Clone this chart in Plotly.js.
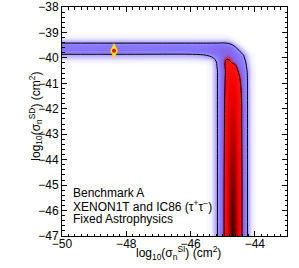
<!DOCTYPE html>
<html>
<head>
<meta charset="utf-8">
<script src="https://cdn.plot.ly/plotly-3.0.1.min.js"></script>
<style>html,body{margin:0;padding:0;background:#fff;}#chart{width:299px;height:268px;}</style>
</head>
<body>
<div id="chart"></div>
<script>
// log10(sigma_SI) grid (x) and log10(sigma_SD) grid (y)
var xGrid = [-50, -48, -46, -45.7, -45.5, -45.35, -45.2, -45.1, -45.0, -44.9, -44.8, -44.7, -44.6, -44.5, -44.4, -44.3, -44.2, -44.1, -43.95, -43.7, -43];
var yGrid = [-47, -45, -43, -41.5, -40.8, -40.5, -40.3, -40.15, -40.0, -39.9, -39.8, -39.7, -39.6, -39.5, -39.4, -39.3, -39.2, -39.05, -38.8, -38];
// relative posterior density, one row per yGrid value
var density = [
  [0,0,0,0,0.01,0.05,0.26,0.37,0.55,0.72,0.87,1.0,0.93,0.78,0.62,0.42,0.25,0.08,0.01,0,0],
  [0,0,0,0,0.01,0.05,0.26,0.37,0.55,0.71,0.85,0.95,0.9,0.76,0.62,0.42,0.25,0.08,0.01,0,0],
  [0,0,0,0,0.01,0.05,0.26,0.37,0.54,0.69,0.81,0.88,0.84,0.73,0.61,0.42,0.25,0.08,0.01,0,0],
  [0,0,0,0,0.01,0.05,0.26,0.37,0.53,0.67,0.77,0.81,0.78,0.7,0.6,0.42,0.25,0.08,0.01,0,0],
  [0,0,0,0,0.01,0.05,0.26,0.37,0.52,0.65,0.73,0.75,0.72,0.65,0.56,0.41,0.25,0.08,0.01,0,0],
  [0,0,0,0,0.01,0.05,0.26,0.37,0.52,0.64,0.7,0.7,0.67,0.6,0.5,0.38,0.24,0.08,0.01,0,0],
  [0,0,0,0,0.01,0.06,0.28,0.4,0.55,0.65,0.67,0.66,0.63,0.54,0.45,0.35,0.2,0.06,0.01,0,0],
  [0.04,0.04,0.04,0.05,0.06,0.1,0.3,0.42,0.56,0.64,0.64,0.6,0.56,0.48,0.42,0.32,0.17,0.05,0.01,0,0],
  [0.16,0.16,0.16,0.18,0.22,0.26,0.36,0.46,0.55,0.6,0.6,0.57,0.52,0.46,0.38,0.27,0.14,0.04,0,0,0],
  [0.24,0.24,0.24,0.26,0.3,0.36,0.44,0.5,0.55,0.57,0.57,0.54,0.5,0.44,0.36,0.24,0.11,0.03,0,0,0],
  [0.38,0.38,0.38,0.4,0.42,0.46,0.5,0.53,0.56,0.57,0.56,0.52,0.46,0.38,0.28,0.16,0.07,0.02,0,0,0],
  [0.46,0.46,0.46,0.47,0.48,0.5,0.52,0.54,0.56,0.56,0.54,0.48,0.4,0.3,0.19,0.09,0.03,0,0,0,0],
  [0.46,0.46,0.46,0.46,0.47,0.48,0.5,0.52,0.53,0.52,0.49,0.42,0.33,0.21,0.11,0.04,0.01,0,0,0,0],
  [0.42,0.42,0.42,0.42,0.42,0.43,0.44,0.45,0.45,0.44,0.4,0.32,0.21,0.11,0.04,0.01,0,0,0,0,0],
  [0.27,0.27,0.27,0.27,0.27,0.27,0.27,0.27,0.28,0.27,0.24,0.17,0.09,0.03,0.01,0,0,0,0,0,0],
  [0.13,0.13,0.13,0.13,0.13,0.13,0.13,0.13,0.13,0.13,0.11,0.07,0.03,0.01,0,0,0,0,0,0,0],
  [0.05,0.05,0.05,0.05,0.05,0.05,0.05,0.05,0.05,0.05,0.04,0.02,0.01,0,0,0,0,0,0,0,0],
  [0.01,0.01,0.01,0.01,0.01,0.01,0.01,0.01,0.01,0.01,0,0,0,0,0,0,0,0,0,0,0],
  [0,0,0,0,0,0,0,0,0,0,0,0,0,0,0,0,0,0,0,0,0],
  [0,0,0,0,0,0,0,0,0,0,0,0,0,0,0,0,0,0,0,0,0]
];
var contourLevels = [0.3, 0.62];
// benchmark point
var benchX = [-48.38];
var benchY = [-39.72];
// ticks
var xTickVals = [-50, -48, -46, -44];
var xTickText = ['\u221250', '\u221248', '\u221246', '\u221244'];
var yTickVals = [-47, -46, -45, -44, -43, -42, -41, -40, -39, -38];
var yTickText = ['\u221247', '\u221246', '\u221245', '\u221244', '\u221243', '\u221242', '\u221241', '\u221240', '\u221239', '\u221238'];
var labelLines = ['Benchmark A', 'XENON1T and IC86 (\u03c4<sup>+</sup>\u03c4<sup>\u2212</sup>)', 'Fixed Astrophysics'];
var labelY = [-45.31, -45.82, -46.33];
var xTitle = 'log<sub>10</sub>(\u03c3<sub>n</sub><sup>SI</sup>) (cm<sup>2</sup>)';
var yTitle = 'log<sub>10</sub>(\u03c3<sub>n</sub><sup>SD</sup>) (cm<sup>2</sup>)';

var FONT = 'Liberation Sans, Arial, Helvetica, sans-serif';
var cscale = [
  [0, '#ffffff'], [0.05, '#f3f1ff'], [0.15, '#d3ccff'], [0.3, '#a295ff'],
  [0.45, '#8676ff'], [0.57, '#8466e6'], [0.6, '#c03078'], [0.625, '#ff1515'],
  [0.8, '#ee0000'], [0.9, '#a00000'], [1, '#300000']
];

var traces = [
  {type: 'contour', x: xGrid, y: yGrid, z: density, autocontour: false,
   zmin: 0, zmax: 1, zauto: false,
   contours: {coloring: 'fill', start: 0.01, end: 0.99, size: 0.02, showlines: false},
   line: {width: 0, smoothing: 1}, colorscale: cscale, showscale: false, hoverinfo: 'skip'},
  {type: 'contour', x: xGrid, y: yGrid, z: density, autocontour: false,
   contours: {coloring: 'none', start: contourLevels[0], end: contourLevels[1],
              size: contourLevels[1] - contourLevels[0], showlines: true},
   line: {color: '#000000', width: 1, smoothing: 1.2}, showscale: false, hoverinfo: 'skip'},
  {type: 'scatter', mode: 'markers', x: benchX, y: benchY,
   marker: {symbol: 'diamond-tall', size: 11, color: '#ffe000', line: {width: 0}}, hoverinfo: 'skip'},
  {type: 'scatter', mode: 'markers', x: benchX, y: benchY,
   marker: {symbol: 'circle', size: 4, color: '#ff0000', line: {width: 0}}, hoverinfo: 'skip'}
];

var annotations = labelLines.map(function (t, i) {
  return {text: t, x: -49.68, y: labelY[i], xref: 'x', yref: 'y', xanchor: 'left', yanchor: 'middle',
          showarrow: false, borderpad: 0, font: {family: FONT, size: 12, color: '#000'}};
});
annotations.push({text: xTitle, xref: 'paper', yref: 'paper', x: 0.518, y: -0.074,
  xanchor: 'center', yanchor: 'middle', showarrow: false, borderpad: 0,
  font: {family: FONT, size: 12, color: '#000'}});
annotations.push({text: yTitle, xref: 'paper', yref: 'paper', x: -0.117, y: 0.524, textangle: -90,
  xanchor: 'center', yanchor: 'middle', showarrow: false, borderpad: 0,
  font: {family: FONT, size: 12, color: '#000'}});

var axisCommon = {
  showgrid: false, zeroline: false, showline: true, linecolor: '#000', linewidth: 1,
  mirror: 'ticks', ticks: 'inside', ticklen: 5, tickwidth: 1, tickcolor: '#000',
  tickfont: {family: FONT, size: 12, color: '#000'},
  minor: {dtick: 0.2, ticks: 'inside', ticklen: 2.5, tickcolor: '#000', tickwidth: 1, showgrid: false}
};

var layout = {
  width: 299, height: 268,
  margin: {l: 62, r: 12, t: 7, b: 32},
  paper_bgcolor: '#fff', plot_bgcolor: '#fff',
  showlegend: false,
  font: {family: FONT, size: 12, color: '#000'},
  xaxis: Object.assign({}, axisCommon, {
    range: [-50, -43], tickmode: 'array', tickvals: xTickVals, ticktext: xTickText,
    ticklabelstandoff: -3
  }),
  yaxis: Object.assign({}, axisCommon, {
    range: [-47, -38], tickmode: 'array', tickvals: yTickVals, ticktext: yTickText
  }),
  annotations: annotations
};

Plotly.newPlot('chart', traces, layout, {staticPlot: true, displayModeBar: false});
</script>
</body>
</html>
